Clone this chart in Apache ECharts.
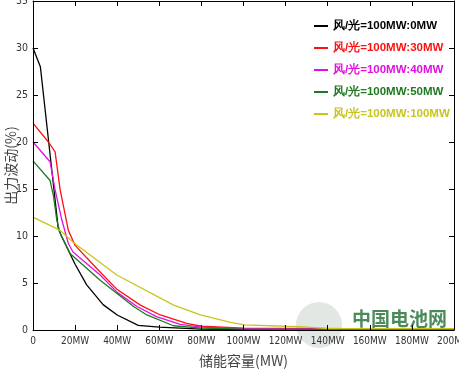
<!DOCTYPE html>
<html><head><meta charset="utf-8">
<script src="https://cdn.jsdelivr.net/npm/echarts@6/dist/echarts.min.js"></script>
<style>html,body{margin:0;padding:0;background:#fff}#c{width:459px;height:373px}</style>
</head><body><div id="c"></div>
<script>
const xTicks = [0,20,40,60,80,100,120,140,160,180,200];
const yTicks = [0,5,10,15,20,25,30,35];
const seriesNames = ['风/光=100MW:0MW','风/光=100MW:30MW','风/光=100MW:40MW','风/光=100MW:50MW','风/光=100MW:100MW'];
const seriesColors = ['#000000','#ff1010','#e010e0','#1e7a1e','#c8c420'];

const blackX = [0,3.5,12,13.5,20,25.5,33.3,40,50,60,70,80,100,120,200];
const blackY = [30,28,10.8,10,7,4.8,2.7,1.6,0.5,0.3,0.2,0.1,0.05,0.02,0];
const redX = [0,7.3,10.5,12.9,16.8,20,30.3,40,51,60.5,73,80,100,150,200];
const redY = [22,20,18.95,14.9,10.6,9.0,6.55,4.3,2.65,1.6,0.7,0.4,0.2,0.15,0.1];
const magentaX = [0,8.1,10.5,13.7,16.8,19,31.9,40,49.4,58.9,70,80,100,200];
const magentaY = [20,17.9,14.9,11.7,9.2,8.3,5.85,4.0,2.5,1.4,0.6,0.3,0.15,0.05];
const greenX = [0,8.1,9.7,11.3,12.9,17.6,31.9,47.8,54.1,66.7,80,100,200];
const greenY = [18,15.9,14.3,11.7,10.3,8.15,5.3,2.5,1.6,0.45,0.2,0.1,0.05];
const yellowX = [0,12.9,19.2,39.8,66.8,79.5,93.8,100.5,120,127,140,200];
const yellowY = [12,10.6,9.3,5.85,2.65,1.6,0.8,0.55,0.4,0.35,0.15,0.15];

const allX = [blackX, redX, magentaX, greenX, yellowX];
const allY = [blackY, redY, magentaY, greenY, yellowY];

const chart = echarts.init(document.getElementById('c'), null, {renderer:'canvas'});
const labelFont = "'DejaVu Sans Condensed','Liberation Sans',sans-serif";
const cjkFont = "'Noto Sans CJK SC','Liberation Sans',sans-serif";
function axLine(){ return {show:true,onZero:false,lineStyle:{color:'#000',width:1}}; }
function axTick(){ return {show:true,inside:true,length:5,lineStyle:{color:'#000',width:1}}; }
const drawOrder = [0,2,3,4,1];
chart.setOption({
  animation:false,
  backgroundColor:'#fff',
  grid:{left:33,right:5,top:1,bottom:43,outerBoundsMode:'none'},
  legend:{
    orient:'vertical', left:309, top:15, itemWidth:14, itemHeight:2, itemGap:10,
    icon:'rect',
    data: seriesNames.map((n,i)=>({name:n, textStyle:{color:seriesColors[i]}})),
    textStyle:{fontSize:11.5,fontWeight:'bold',fontFamily:"'Liberation Sans',Arial,sans-serif"}
  },
  xAxis:[
    {type:'value',min:0,max:200,interval:20,position:'bottom',z:10,
      axisLine:axLine(),axisTick:axTick(),splitLine:{show:false},
      axisLabel:{color:'#333',fontSize:10,fontFamily:labelFont,margin:6,
        formatter:v=>xTicks.includes(v)?(v===0?'0':v+'MW'):''},
      name:'储能容量(MW)',nameLocation:'middle',nameGap:24,nameMoveOverlap:false,
      nameTextStyle:{color:'#444',fontSize:14,fontFamily:cjkFont}},
    {type:'value',min:0,max:200,interval:20,position:'top',z:10,
      axisLine:axLine(),axisTick:axTick(),splitLine:{show:false},axisLabel:{show:false}}
  ],
  yAxis:[
    {type:'value',min:0,max:35,interval:5,position:'left',z:10,
      axisLine:axLine(),axisTick:axTick(),splitLine:{show:false},
      axisLabel:{color:'#333',fontSize:10.5,fontFamily:labelFont,margin:5,
        formatter:v=>yTicks.includes(v)?String(v):''},
      name:'出力波动(%)',nameLocation:'middle',nameGap:15,nameRotate:90,nameMoveOverlap:false,
      nameTextStyle:{color:'#444',fontSize:14,fontFamily:cjkFont}},
    {type:'value',min:0,max:35,interval:5,position:'right',z:10,
      axisLine:axLine(),axisTick:axTick(),splitLine:{show:false},axisLabel:{show:false}}
  ],
  series: drawOrder.map(i=>({
    name:seriesNames[i], type:'line', symbol:'none', smooth:false,
    xAxisIndex:0, yAxisIndex:0,
    data: allX[i].map((x,k)=>[x, allY[i][k]]),
    lineStyle:{color:seriesColors[i],width:1.3},
    itemStyle:{color:seriesColors[i]},
    z: 2+i
  })),
  graphic:[
    {type:'circle',left:296,top:302,shape:{r:23},style:{fill:'rgba(120,150,130,0.22)'},z:0},
    {type:'text',left:352,top:309,style:{text:'中国电池网',fill:'rgba(30,110,50,0.8)',font:"bold 19px 'Noto Sans CJK SC',sans-serif"},z:0}
  ]
});
</script></body></html>
